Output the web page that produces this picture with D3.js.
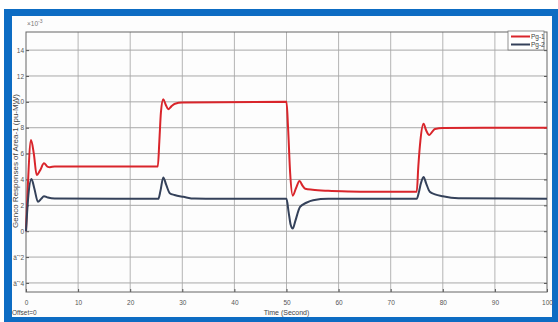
<!DOCTYPE html>
<html>
<head>
<style>
  body { margin: 0; background: #fff; }
  text { font-family: "Liberation Sans Narrow", "Liberation Sans", Arial, sans-serif; }
</style>
</head>
<body>
    <div class="graph"></div>

    <script src="https://d3js.org/d3.v7.min.js"></script>
    <script>
        // values (x10^-3 pu-MW)
        var tPg1 = [0, 0.3, 0.96, 1.5, 2.05, 2.7, 3.45, 4.1, 4.6, 5.5, 25.3, 25.6, 25.9, 26.35, 26.8, 27.3, 27.9, 28.6, 30,
            50, 50.3, 50.7, 51.2, 51.8, 52.5, 53.1, 53.6, 55, 58, 62, 66, 75, 75.3, 75.7, 76.3, 76.8, 77.4, 78, 78.5, 80, 100]
        var pg1 = [0, 3.0, 7.05, 6.0, 4.34, 4.7, 5.25, 5.0, 4.95, 5.0, 5.0, 7.0, 9.2, 10.2, 9.8, 9.43, 9.65, 9.85, 9.95,
            10.0, 8.0, 4.5, 2.75, 3.3, 3.88, 3.5, 3.28, 3.2, 3.12, 3.07, 3.05, 3.05, 5.0, 7.0, 8.3, 7.8, 7.44, 7.7, 7.9, 7.98, 8.0]

        var tPg2 = [0, 0.4, 1.05, 1.6, 2.3, 2.9, 3.45, 4.2, 5.5, 25.4, 25.8, 26.35, 26.9, 27.6, 28.5, 30.2, 32.4,
            50, 50.4, 50.8, 51.2, 51.7, 52.6, 53.8, 55.1, 58, 75, 75.4, 75.8, 76.3, 76.8, 77.5, 78.5, 80, 83, 100]
        var pg2 = [0, 2.5, 4.03, 3.3, 2.27, 2.5, 2.71, 2.6, 2.52, 2.5, 3.1, 4.16, 3.6, 2.94, 2.8, 2.66, 2.52,
            2.5, 1.5, 0.5, 0.2, 0.8, 1.88, 2.2, 2.4, 2.5, 2.5, 3.0, 3.7, 4.2, 3.7, 3.05, 2.85, 2.7, 2.55, 2.5]

        var xTicks = d3.range(0, 101, 10)
        var yTicks = d3.range(-4, 15, 2)
        var seriesNames = ['Pg-1', 'Pg-2']
        var seriesColors = ['#d9252b', '#34415a']

        var width = 558,
            height = 322,
            plotL = 26, plotR = 547, plotT = 32, plotB = 292

        var x = d3.scaleLinear().domain([0, 100]).range([plotL, plotR])
        var y = d3.scaleLinear().domain([-4.7, 15.4]).range([plotB, plotT])

        var svg = d3.select('.graph').append('svg')
            .attr('width', width)
            .attr('height', height)
            .style('display', 'block')

        // blue frame
        svg.append('rect').attr('x', 4).attr('y', 9).attr('width', 554).attr('height', 313).attr('fill', '#0d6cc3')
        svg.append('rect').attr('x', 12).attr('y', 16).attr('width', 540).attr('height', 301).attr('fill', '#fdfdfd')

        // grid
        svg.append('g').selectAll('line').data(xTicks.slice(1, -1)).join('line')
            .attr('x1', function (d) { return x(d) }).attr('x2', function (d) { return x(d) })
            .attr('y1', plotT).attr('y2', plotB)
            .attr('stroke', '#b4b4b4').attr('stroke-width', 1)
        svg.append('g').selectAll('line').data(yTicks).join('line')
            .attr('x1', plotL).attr('x2', plotR)
            .attr('y1', function (d) { return y(d) }).attr('y2', function (d) { return y(d) })
            .attr('stroke', '#a8a8a8').attr('stroke-width', 1)

        // axes
        var yAxis = svg.append('g')
            .attr('transform', 'translate(' + plotL + ',0)')
            .call(d3.axisLeft(y).tickValues(yTicks).tickSize(-3).tickPadding(2))
        var yAxisR = svg.append('g')
            .attr('transform', 'translate(' + plotR + ',0)')
            .call(d3.axisRight(y).tickValues(yTicks).tickSize(-3).tickFormat(''))
        var xAxis = svg.append('g')
            .attr('transform', 'translate(0,' + plotB + ')')
            .call(d3.axisBottom(x).tickValues(xTicks).tickSize(-3).tickPadding(8))
        svg.selectAll('.domain').remove()
        svg.selectAll('.tick line').attr('stroke', '#555')
        svg.selectAll('.tick text').attr('fill', '#555').style('font-size', '6.5px')
            .style('font-family', '"Liberation Sans Narrow", "Liberation Sans", Arial, sans-serif')

        // axes box
        svg.append('rect').attr('x', plotL).attr('y', plotT)
            .attr('width', plotR - plotL).attr('height', plotB - plotT)
            .attr('fill', 'none').attr('stroke', '#666').attr('stroke-width', 1)

        // series
        var line = d3.line()
            .x(function (d) { return x(d[0]) })
            .y(function (d) { return y(d[1]) })
            .curve(d3.curveMonotoneX)

        var series = [d3.zip(tPg1, pg1), d3.zip(tPg2, pg2)]
        svg.append('g').selectAll('path').data(series).join('path')
            .attr('d', line)
            .attr('fill', 'none')
            .attr('stroke', function (d, i) { return seriesColors[i] })
            .attr('stroke-width', 2)
            .attr('stroke-linejoin', 'round')

        // exponent label
        svg.append('text').attr('x', plotL + 1).attr('y', 26)
            .attr('fill', '#777').style('font-size', '6.5px')
            .text('\u00d710')
            .append('tspan').attr('dy', -3).style('font-size', '5px').text('-3')

        // axis labels
        svg.append('text')
            .attr('transform', 'translate(18,' + 161 + ') rotate(-90)')
            .attr('text-anchor', 'middle')
            .attr('fill', '#444').style('font-size', '8px')
            .text('Genco Responses of Area-1 (pu-MW)')
        svg.append('text')
            .attr('x', x(50)).attr('y', 315)
            .attr('text-anchor', 'middle')
            .attr('fill', '#444').style('font-size', '7px')
            .text('Time (Second)')
        svg.append('text')
            .attr('x', 12).attr('y', 315)
            .attr('fill', '#444').style('font-size', '6.5px')
            .text('Offset=0')

        // legend
        var lg = svg.append('g').attr('transform', 'translate(508,31)')
        lg.append('rect').attr('width', 36).attr('height', 19)
            .attr('fill', '#fff').attr('stroke', '#777').attr('stroke-width', 0.8)
        lg.selectAll('line').data(seriesNames).join('line')
            .attr('x1', 3).attr('x2', 22)
            .attr('y1', function (d, i) { return 5.5 + i * 8 }).attr('y2', function (d, i) { return 5.5 + i * 8 })
            .attr('stroke', function (d, i) { return seriesColors[i] })
            .attr('stroke-width', 2)
        lg.selectAll('text').data(seriesNames).join('text')
            .attr('x', 23).attr('y', function (d, i) { return 8 + i * 8 })
            .attr('fill', '#444').style('font-size', '6.5px')
            .text(function (d) { return d })
    </script>
</body>

</html>
